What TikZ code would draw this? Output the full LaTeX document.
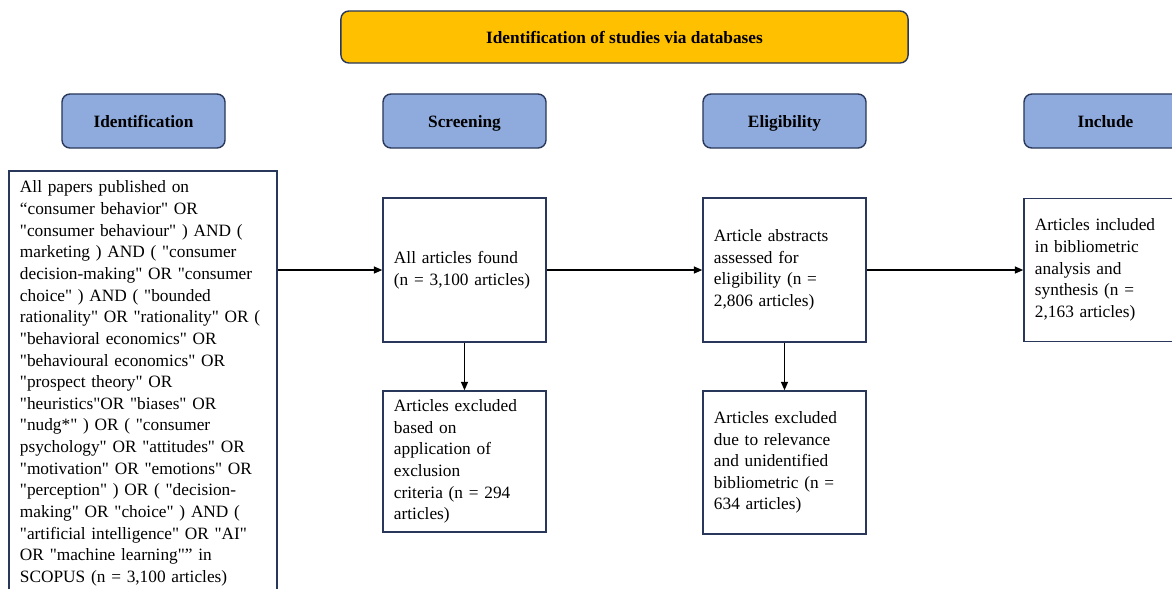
\documentclass[tikz,border=0pt]{standalone}
\usepackage{fontspec}
\setmainfont{Liberation Serif}[Ligatures=TeXOff]
\usetikzlibrary{arrows.meta}

\definecolor{titlegold}{RGB}{255,192,0}
\definecolor{stageblue}{RGB}{143,170,220}
\definecolor{edgenavy}{RGB}{40,55,90}

\tikzset{
  titlebox/.style={draw=edgenavy, fill=titlegold, line width=1pt, rounded corners=0.2cm,
    minimum width=14.175cm, minimum height=1.3cm, text height=10pt, text depth=1.2pt,
    font=\fontsize{12.3}{15.4}\selectfont\bfseries},
  stagebox/.style={draw=edgenavy, fill=stageblue, line width=1pt, rounded corners=0.2cm,
    minimum width=4.075cm, minimum height=1.35cm, text height=10pt, text depth=1.2pt,
    font=\fontsize{12.3}{15.4}\selectfont\bfseries},
  textbox/.style={draw=edgenavy, line width=1pt, inner xsep=0.275cm, text width=3.525cm,
    align=left, font=\fontsize{12.3}{15.4}\selectfont},
  arr/.style={-{Triangle[length=6pt,width=5pt]}, line width=0.9pt}
}

\begin{document}
\begin{tikzpicture}[x=0.025cm, y=-0.025cm]
    % Lienzo recortado como en la figura
    \clip (0,0) rectangle (1172,588);

    % Titulo
    \node[titlebox] (title) at (624.5,37) {Identification of studies via databases};

    % Fases
    \node[stagebox] (ident) at (143.5,121) {Identification};
    \node[stagebox] (screen) at (464.5,121) {Screening};
    \node[stagebox] (elig) at (784.5,121) {Eligibility};
    \node[stagebox] (incl) at (1105.5,121) {Include};

    % Busqueda
    \node[textbox, text width=6.15cm, minimum height=10.625cm] (search) at (143,383.5) {All papers published on\\
      “consumer behavior" OR\\
      "consumer behaviour" ) AND (\\
      marketing ) AND ( "consumer\\
      decision-making" OR "consumer\\
      choice" ) AND ( "bounded\\
      rationality" OR "rationality" OR (\\
      "behavioral economics" OR\\
      "behavioural economics" OR\\
      "prospect theory" OR\\
      "heuristics"OR "biases" OR\\
      "nudg*" ) OR ( "consumer\\
      psychology" OR "attitudes" OR\\
      "motivation" OR "emotions" OR\\
      "perception" ) OR ( "decision-\\
      making" OR "choice" ) AND (\\
      "artificial intelligence" OR "AI"\\
      OR "machine learning"” in\\
      SCOPUS (n = 3,100 articles)};

    % Cribado
    \node[textbox, minimum height=3.6cm] (found) at (464.5,270) {All articles found\\(n = 3,100 articles)};
    \node[textbox, minimum height=3.525cm] (exclA) at (464.5,461.5) {Articles excluded\\based on\\application of\\exclusion\\criteria (n = 294\\articles)};

    % Elegibilidad
    \node[textbox, minimum height=3.6cm] (assess) at (784.5,270) {Article abstracts\\assessed for\\eligibility (n =\\2,806 articles)};
    \node[textbox, minimum height=3.575cm] (exclB) at (784.5,462.5) {Articles excluded\\due to relevance\\and unidentified\\bibliometric (n =\\634 articles)};

    % Incluidos
    \node[textbox, minimum height=3.575cm] (final) at (1105.5,270) {Articles included\\in bibliometric\\analysis and\\synthesis (n =\\2,163 articles)};

    % Flechas
    \draw[arr] (found.west -| search.east) -- (found.west);
    \draw[arr] (found.east) -- (assess.west);
    \draw[arr] (assess.east) -- (final.west);
    \draw[arr] (found) -- (exclA);
    \draw[arr] (assess) -- (exclB);
\end{tikzpicture}
\end{document}
